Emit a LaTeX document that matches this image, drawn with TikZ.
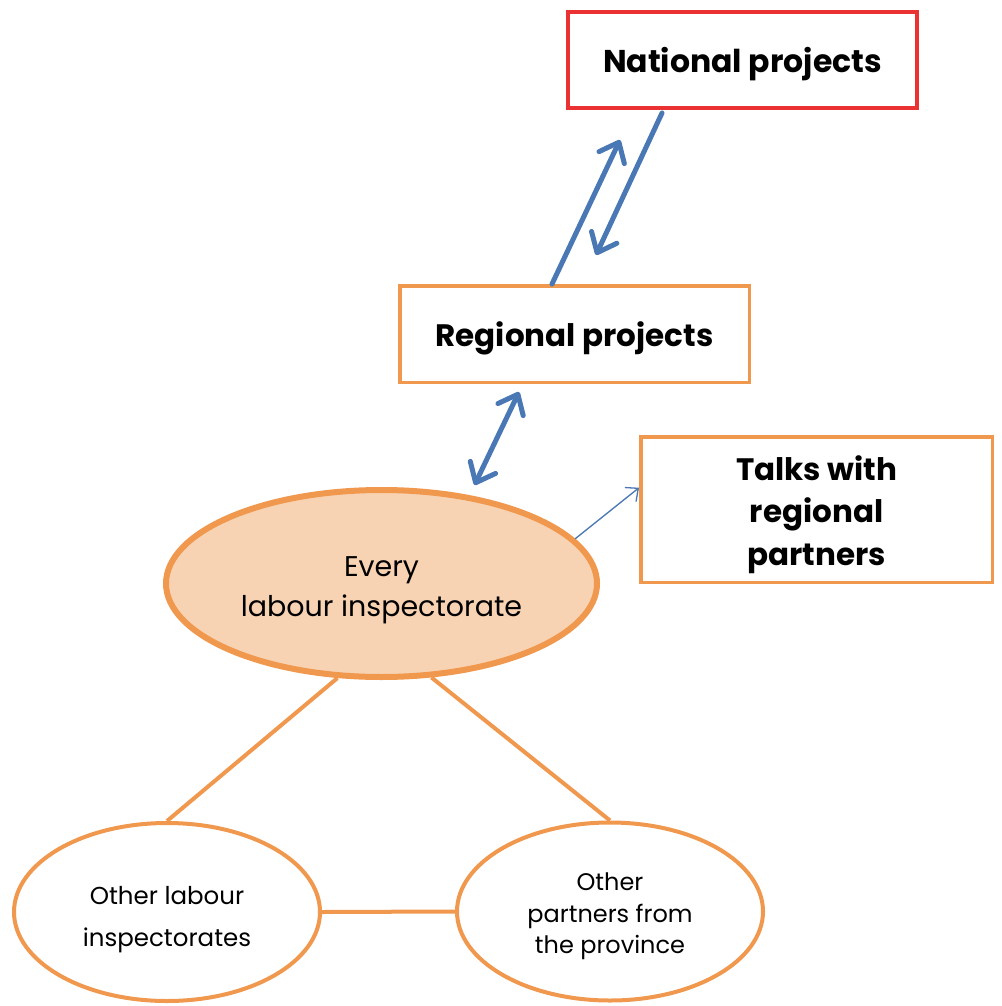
\documentclass[tikz,border=0pt]{standalone}
\usepackage{fontspec}
\setmainfont{Poppins}
\usetikzlibrary{shapes.geometric,arrows.meta}
\definecolor{boxorange}{HTML}{F0984E}
\definecolor{peach}{HTML}{F8D3B3}
\definecolor{natred}{HTML}{EA3232}
\definecolor{linkblue}{HTML}{4A78B4}
\newcommand{\txtdrop}[2][0.74em]{\rule{0pt}{\dimexpr#1+#2\relax}}
\begin{document}
\begin{tikzpicture}[x=1pt,y=-1pt,
  projbox/.style={draw=boxorange,line width=3.5pt,inner sep=0pt,align=center,
    font=\fontsize{31}{42.5}\selectfont\bfseries},
  partner/.style={ellipse,draw=boxorange,line width=4pt,fill=white,inner sep=0pt,
    minimum width=306pt,minimum height=178pt,align=center},
  link/.style={draw=boxorange,line width=4pt},
  flow/.style={draw=linkblue,line width=5pt,line cap=round,
    -{Straight Barb[length=17pt,width=28pt,round]}},
  bothflow/.style={flow,{Straight Barb[length=17pt,width=28pt,round]}-{Straight Barb[length=17pt,width=28pt,round]}},
  thinflow/.style={draw=linkblue,line width=1.3pt,
    -{Straight Barb[length=10pt,width=18pt]}}]
\useasboundingbox (0,0) rectangle (1001,1006);
\node[projbox,draw=natred,line width=4pt,minimum width=349pt,minimum height=96pt,
  font=\fontsize{31.5}{42.5}\selectfont\bfseries]
  (national) at (742.5,60) {\txtdrop{10pt}National projects};
\node[projbox,minimum width=349.5pt,minimum height=96.5pt]
  (regional) at (574.5,334) {\txtdrop{10pt}Regional projects};
\node[projbox,minimum width=351.5pt,minimum height=145.5pt]
  (talks) at (816.5,509.5) {\txtdrop{12pt}Talks with\\regional\\partners};
\node[ellipse,draw=boxorange,fill=peach,line width=6pt,inner sep=0pt,
  minimum width=431pt,minimum height=187pt,align=center,
  font=\fontsize{28.5}{40}\selectfont] (inspect) at (381.5,583.5)
  {\txtdrop[0.70em]{14pt}Every\\labour inspectorate};
\node[partner,font=\fontsize{24.5}{42}\selectfont] (others) at (167,912)
  {\txtdrop{16pt}Other labour\\inspectorates};
\node[partner,font=\fontsize{24}{31.5}\selectfont] (province) at (610,911.5)
  {\txtdrop{10pt}Other\\partners from\\the province};
\draw[link] (inspect.245) -- (others.north);
\draw[link] (inspect.298) -- (province.north);
\draw[link] (others.east) -- (province.west);
\coordinate (uptip) at ([xshift=-122.5pt,yshift=-30pt]national.south);
\coordinate (downtip) at ([xshift=21.5pt,yshift=29pt]regional.north);
\draw[flow] ([xshift=-22.5pt]regional.north) -- (uptip);
\draw[flow] ([xshift=-80.5pt,yshift=-3pt]national.south) -- (downtip);
\draw[bothflow]
  ([xshift=-55.5pt,yshift=-8pt]regional.south) -- ([xshift=93pt,yshift=2pt]inspect.north);
\draw[thinflow] (inspect.13) -- (talks.173);
\end{tikzpicture}
\end{document}
